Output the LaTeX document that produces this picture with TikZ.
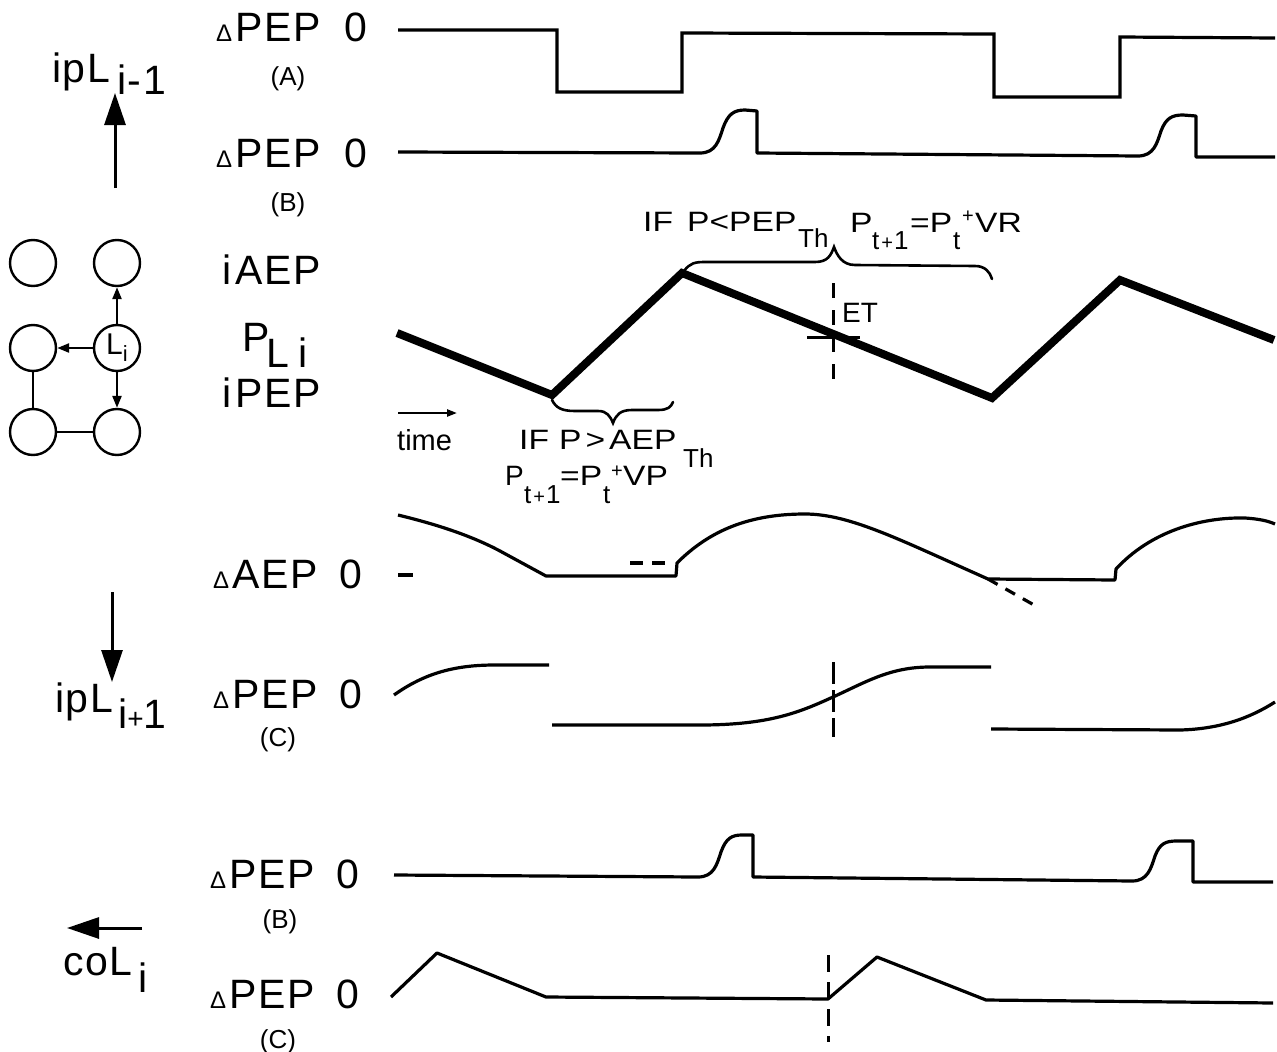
\documentclass[tikz,border=0pt]{standalone}
\usepackage{fontspec}
\setmainfont{Liberation Sans}
\newfontfamily\labfont[LetterSpace=4]{Liberation Sans}
\newfontfamily\annfont[FakeStretch=1.2]{Liberation Sans}
\usetikzlibrary{arrows.meta}
\newcommand\dtri{{\fontsize{24}{24}\selectfont Δ}}
\newcommand\plus{{\fontsize{20}{20}\selectfont +}}
\newcommand\midplus{{\fontsize{28}{28}\selectfont +}}

\begin{document}
\begin{tikzpicture}[x=1pt,y=-1pt,
  big/.style={font=\labfont\fontsize{41}{43}\selectfont, inner sep=0pt, anchor=base west},
  tag/.style={font=\fontsize{26}{28}\selectfont, inner sep=0pt, anchor=base},
  ann/.style={font=\annfont\fontsize{28}{30}\selectfont, inner sep=0pt, anchor=base west},
  annsub/.style={font=\fontsize{26}{28}\selectfont, inner sep=0pt, anchor=base west},
  trace/.style={line width=3.2pt, line join=round},
  heavy/.style={line width=8pt},
  brace/.style={line width=2.6pt, line cap=round},
  marker/.style={line width=3pt},
  cell/.style={circle, draw, line width=2.4pt, minimum size=46pt, inner sep=0pt,
               font=\fontsize{30}{32}\selectfont},
  bigarrow/.style={line width=3pt, -{Triangle[length=32pt,width=21pt]}},
  smallarrow/.style={line width=2.4pt, -{Triangle[length=12pt,width=9pt]}},
  link/.style={line width=2.4pt}
]
\useasboundingbox (0,0) rectangle (1277,1052);
\fill[white] (0,0) rectangle (1277,1052);

% ---------- left column: neighbourhood of cell L_i ----------
\node[cell] (c11) at (33,263) {};
\node[cell] (c12) at (117,263) {};
\node[cell] (c21) at (33,348) {};
\node[cell] (li)  at (117,348) {L\raisebox{-7pt}{\fontsize{22}{22}\selectfont i}};
\node[cell] (c31) at (33,432) {};
\node[cell] (c32) at (117,432) {};
\draw[smallarrow] (li) -- (c12);
\draw[smallarrow] (li) -- (c21);
\draw[smallarrow] (li) -- (c32);
\draw[link] (c21) -- (c31);
\draw[link] (c31) -- (c32);

% input / output arrows of the cell
\node[big] (ipm) at (52,82) {ipL};
\node[big] (ipmsub) at (117,94) {i-1};
\coordinate (upfoot) at (115,188);
\coordinate (uptip) at (115,93);
\draw[bigarrow] (upfoot) -- (uptip);

\node[big] (ipp) at (55,712) {ipL};
\node[big] (ippsub) at (118,728) {i\midplus 1};
\coordinate (dnfoot) at (112,592);
\coordinate (dntip) at (112,682);
\draw[bigarrow] (dnfoot) -- (dntip);

\node[big] (col) at (63,975) {coL};
\node[big] (colsub) at (138,992) {i};
\coordinate (lfoot) at (142,928);
\coordinate (ltip) at (67,928);
\draw[bigarrow] (lfoot) -- (ltip);

% ---------- row labels ----------
\node[big] (rowA) at (216,41) {\dtri\hspace{3pt}PEP\hspace{24pt}0};
\node[tag] (tagA) at (288,85) {(A)};
\node[big] (rowB) at (216,167) {\dtri\hspace{3pt}PEP\hspace{24pt}0};
\node[tag] (tagB) at (288,211) {(B)};
\node[big] (iaep) at (222,284) {i\hspace{4pt}AEP};
\node[big] (pli) at (242,351) {P};
\node[big] (plisub) at (266,367) {L\hspace{10pt}i};
\node[big] (ipep) at (222,407) {i\hspace{4pt}PEP};
\node[big] (rowAEP) at (213,588) {\dtri\hspace{3pt}AEP\hspace{22pt}0};
\node[big] (rowC) at (213,708) {\dtri\hspace{3pt}PEP\hspace{22pt}0};
\node[tag] (tagC) at (278,746) {(C)};
\node[big] (rowB2) at (210,888) {\dtri\hspace{3pt}PEP\hspace{22pt}0};
\node[tag] (tagB2) at (280,928) {(B)};
\node[big] (rowC2) at (210,1008) {\dtri\hspace{3pt}PEP\hspace{22pt}0};
\node[tag] (tagC2) at (278,1048) {(C)};

% ---------- trace A: square wave ----------
\draw[trace, line join=miter] (398,30) -- (557,30) -- (557,92) -- (682,92) -- (682,33)
  -- (994,34) -- (994,97) -- (1120,97) -- (1120,37) -- (1275,38);

% ---------- trace B (top) ----------
\draw[trace] (398,152) -- (700,153) .. controls (716,153) and (719,140) .. (723,128)
  .. controls (728,114) and (734,110) .. (745,110) -- (757,111) -- (757,153)
  -- (1138,156) .. controls (1154,156) and (1157,143) .. (1161,131)
  .. controls (1166,118) and (1172,115) .. (1183,115) -- (1196,116) -- (1196,157)
  -- (1275,157);

% ---------- membrane potential P ----------
\draw[heavy] (397,333) -- (552,395) -- (682,273) -- (992,398) -- (1120,280) -- (1274,340);

% threshold crossing ET
\draw[marker, dash pattern=on 15pt off 12pt] (833,283) -- (833,390);
\draw[marker] (807,337) -- (860,337);
\node[ann, font=\fontsize{28}{30}\selectfont] (et) at (842,322) {ET};

% braces
\draw[brace] (684,271) .. controls (690,263) and (695,262) .. (705,262) -- (815,262)
  .. controls (828,262) and (831,255) .. (834,247)
  .. controls (837,255) and (842,265) .. (855,265) -- (975,266)
  .. controls (985,266) and (990,272) .. (992,279);
\draw[brace] (552,400) .. controls (556,408) and (562,411) .. (575,411) -- (598,411)
  .. controls (607,411) and (610,416) .. (613,423)
  .. controls (616,415) and (620,410) .. (632,410) -- (658,410)
  .. controls (668,410) and (671,407) .. (673,402);

% upper rule text
\node[ann] (if1) at (643,231) {IF};
\node[ann] (cond1) at (687,231) {P<PEP};
\node[annsub] (th1) at (798,247) {Th};
\node[ann] (pt1) at (850,232) {P};
\node[annsub] (ts1) at (872,249) {t\hspace{2pt}\plus\hspace{1pt}1};
\node[ann] (eq1) at (910,232) {=P};
\node[annsub] (t1) at (953,249) {t};
\node[annsub] (pl1) at (962,222) {\plus};
\node[ann] (vr) at (975,232) {VR};

% time arrow
\coordinate (tstart) at (398,413);
\coordinate (tend) at (457,413);
\draw[line width=2.2pt, -{Triangle[length=10pt,width=7pt]}] (tstart) -- (tend);
\node[ann, font=\fontsize{29}{31}\selectfont] (time) at (397,450) {time};

% lower rule text
\node[ann] (if2) at (519,449) {IF};
\node[ann] (cond2) at (559,449) {P\hspace{4pt}>\hspace{4pt}AEP};
\node[annsub] (th2) at (683,467) {Th};
\node[ann, font=\fontsize{28}{30}\selectfont] (pt2) at (505,485) {P};
\node[annsub] (ts2) at (524,503) {t\hspace{2pt}\plus\hspace{1pt}1};
\node[ann] (eq2) at (560,485) {=P};
\node[annsub] (t2) at (603,503) {t};
\node[annsub] (pl2) at (611,477) {\plus};
\node[ann] (vp) at (623,485) {VP};

% ---------- AEP difference trace ----------
\draw[line width=4pt] (398,575) -- (413,575);
\draw[trace] (398,515) .. controls (435,524) and (470,535) .. (500,551) -- (546,576)
  -- (676,576) -- (677,563) .. controls (710,530) and (750,514) .. (805,514)
  .. controls (850,514) and (900,540) .. (988,579) -- (1115,580) -- (1116,569)
  .. controls (1150,532) and (1200,517) .. (1245,518)
  .. controls (1260,519) and (1268,521) .. (1275,524);
\draw[trace, dash pattern=on 13pt off 9pt] (630,563) -- (667,563);
\draw[trace, dash pattern=on 11pt off 9pt] (988,579) -- (1034,605);

% ---------- PEP difference trace (C) ----------
\draw[trace] (394,695) .. controls (425,673) and (455,665) .. (495,665) -- (549,665);
\draw[trace] (552,725) -- (700,725) .. controls (770,725) and (800,712) .. (833,697)
  .. controls (866,682) and (890,667) .. (930,667) -- (991,667);
\draw[trace] (991,729) -- (1180,730) .. controls (1220,729) and (1250,718) .. (1275,702);
\draw[marker, dash pattern=on 22pt off 6pt] (833,662) -- (833,737);

% ---------- trace B (bottom) ----------
\draw[trace] (394,875) -- (698,877) .. controls (714,877) and (717,864) .. (721,852)
  .. controls (726,838) and (732,835) .. (742,835) -- (753,835) -- (753,877)
  -- (1132,881) .. controls (1148,881) and (1151,868) .. (1155,856)
  .. controls (1160,843) and (1166,841) .. (1177,841) -- (1193,841) -- (1193,882)
  -- (1273,882);

% ---------- trace C (bottom) ----------
\draw[trace] (391,997) -- (437,953) -- (546,997) -- (828,999) -- (877,957) -- (986,1000)
  -- (1273,1003);
\draw[marker, dash pattern=on 17pt off 10pt] (828,955) -- (828,1042);
\end{tikzpicture}
\end{document}
